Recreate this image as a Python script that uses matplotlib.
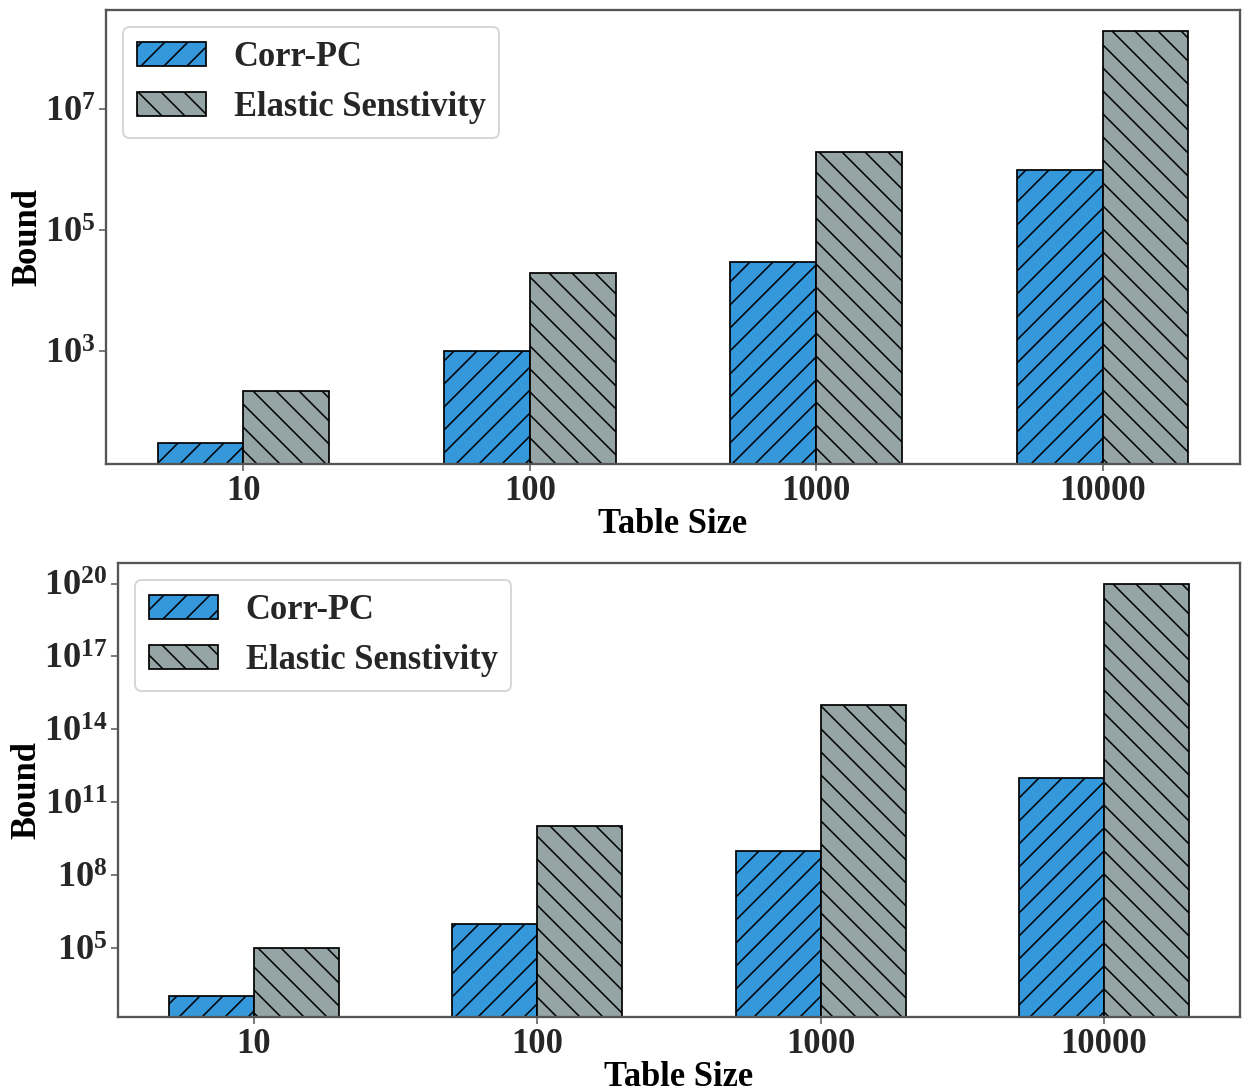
import numpy as np
import matplotlib
matplotlib.use("Agg")
import matplotlib.pyplot as plt
from matplotlib.ticker import NullLocator

# data
table_sizes = ["10", "100", "1000", "10000"]
series_names = ["Corr-PC", "Elastic Senstivity"]

# top panel
top_corr_pc = [30, 1000, 3.0e4, 1.0e6]
top_elastic = [220, 2.0e4, 2.0e6, 2.0e8]

# bottom panel
bottom_corr_pc = [1.0e3, 1.0e6, 1.0e9, 1.0e12]
bottom_elastic = [1.0e5, 1.0e10, 1.0e15, 1.0e20]

top_yticks = [1e3, 1e5, 1e7]
bottom_yticks = [1e5, 1e8, 1e11, 1e14, 1e17, 1e20]

plt.rcParams["font.family"] = ["Liberation Serif", "DejaVu Serif"]
plt.rcParams["font.weight"] = "bold"
plt.rcParams["mathtext.fontset"] = "custom"
plt.rcParams["mathtext.rm"] = "Liberation Serif:bold"
plt.rcParams["mathtext.it"] = "Liberation Serif:bold"
plt.rcParams["mathtext.bf"] = "Liberation Serif:bold"
plt.rcParams["text.color"] = "#262626"
plt.rcParams["xtick.color"] = "#555555"
plt.rcParams["ytick.color"] = "#555555"
plt.rcParams["xtick.labelcolor"] = "#262626"
plt.rcParams["ytick.labelcolor"] = "#262626"
plt.rcParams["hatch.linewidth"] = 0.8

DPI = 138
W, H = 1243, 1090
fig = plt.figure(figsize=(W / DPI, H / DPI), dpi=DPI)

ax_top = fig.add_axes([106 / W, 1 - 464 / H, 1134 / W, 454 / H])
ax_bot = fig.add_axes([118 / W, 1 - 1017 / H, 1122 / W, 454 / H])

blue = "#3498db"
gray = "#95a5a6"
width = 0.3
x = np.arange(len(table_sizes))


def draw_panel(ax, corr, elastic, yticks):
    ax.bar(x - width / 2, corr, width, color=blue, edgecolor="black",
           linewidth=0.9, hatch="//", label=series_names[0])
    ax.bar(x + width / 2, elastic, width, color=gray, edgecolor="black",
           linewidth=0.9, hatch="\\\\", label=series_names[1])
    ax.set_yscale("log")
    ax.set_yticks(yticks)
    ax.yaxis.set_minor_locator(NullLocator())
    ax.set_xticks(x)
    ax.set_xticklabels(table_sizes)
    ax.tick_params(axis="x", labelsize=18, pad=2)
    ax.tick_params(axis="y", labelsize=19, pad=2)
    ax.set_xlabel("Table Size", fontsize=18, fontweight="bold", labelpad=0)
    ax.set_ylabel("Bound", fontsize=18, fontweight="bold", labelpad=0)
    for s in ax.spines.values():
        s.set_color("#555555")
        s.set_linewidth(1.2)
    ax.legend(loc="upper left", fontsize=18)


draw_panel(ax_top, top_corr_pc, top_elastic, top_yticks)
draw_panel(ax_bot, bottom_corr_pc, bottom_elastic, bottom_yticks)

fig.savefig("out.png", dpi=DPI)
